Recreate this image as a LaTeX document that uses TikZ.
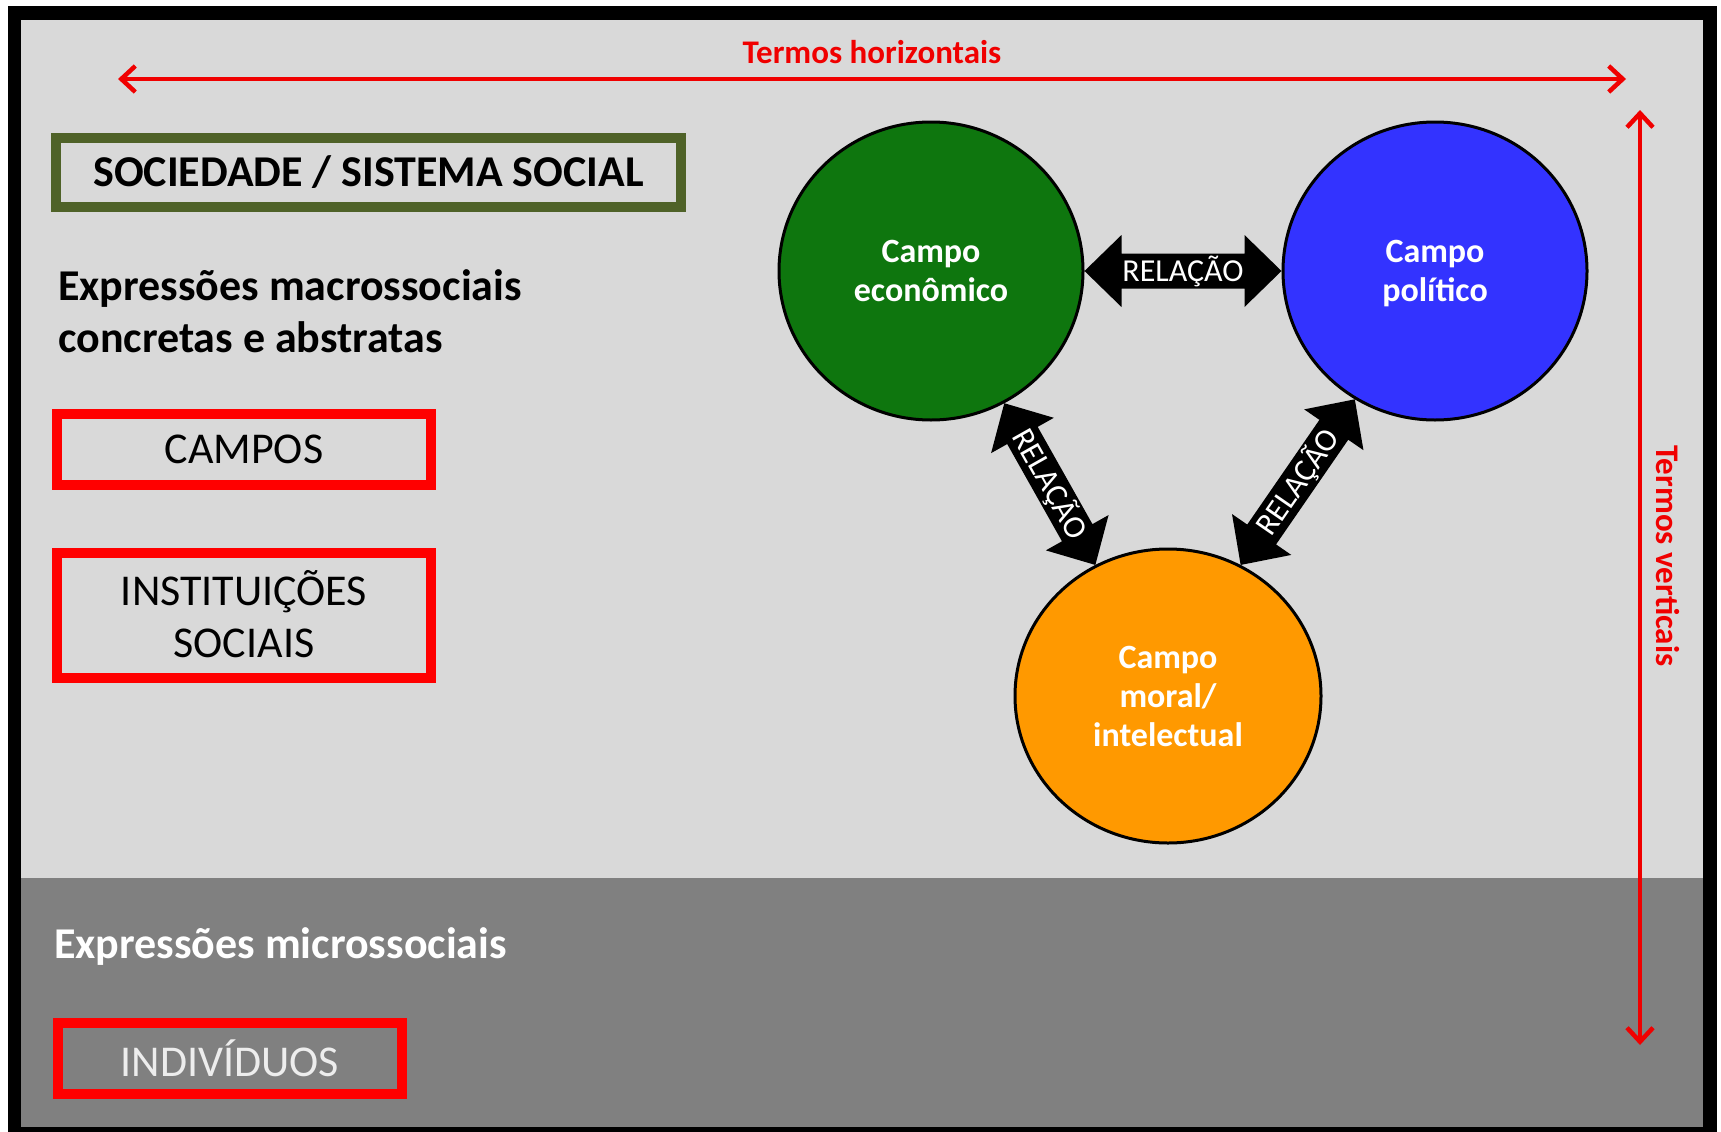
\documentclass[tikz,border=0pt]{standalone}
\usepackage{fontspec}
\setmainfont{Carlito}
\usetikzlibrary{calc,arrows.meta,shapes.geometric}
\definecolor{lightbg}{HTML}{D9D9D9}
\definecolor{darkbg}{HTML}{808080}
\definecolor{olivebox}{HTML}{4F6228}
\definecolor{boxred}{HTML}{FF0000}
\definecolor{termred}{HTML}{F00000}
\definecolor{cgreen}{HTML}{0E760E}
\definecolor{cblue}{HTML}{3333FF}
\definecolor{corange}{HTML}{FF9900}
\newcommand\RelArrow[2]{%
  \fill[black] (#1)
   -- ($(#1)!37pt!(#2)!36pt!90:(#2)$)
   -- ($(#1)!37pt!(#2)!17.5pt!90:(#2)$)
   -- ($(#2)!37pt!(#1)!17.5pt!270:(#1)$)
   -- ($(#2)!37pt!(#1)!36pt!270:(#1)$)
   -- (#2)
   -- ($(#2)!37pt!(#1)!36pt!90:(#1)$)
   -- ($(#2)!37pt!(#1)!17.5pt!90:(#1)$)
   -- ($(#1)!37pt!(#2)!17.5pt!270:(#2)$)
   -- ($(#1)!37pt!(#2)!36pt!270:(#2)$)
   -- cycle;}
\begin{document}
\begin{tikzpicture}[x=1pt,y=-1pt,
  framebox/.style={draw=boxred, line width=10pt, rectangle, inner sep=0pt,
    font=\fontsize{44}{52}\selectfont, align=center},
  circ/.style={ellipse, draw=black, line width=3pt, inner sep=0pt,
    minimum width=304pt, minimum height=298pt, text=white,
    font=\bfseries\fontsize{34}{39}\selectfont, align=center},
  reltext/.style={text=white, font=\fontsize{32}{34}\selectfont, inner sep=0pt},
  termarrow/.style={draw=termred, line width=4.5pt,
    {Straight Barb[length=14pt,width=26pt]}-{Straight Barb[length=14pt,width=26pt]}},
  termtext/.style={text=termred, font=\bfseries\fontsize{33}{36}\selectfont, inner sep=0pt},
  heading/.style={anchor=west, align=left, inner sep=0pt,
    font=\bfseries\fontsize{44}{52}\selectfont}]
\useasboundingbox (0,0) rectangle (1721,1132);
% frame and backgrounds
\fill[white] (0,0) rectangle (1721,1132);
\fill[black] (8,6) rectangle (1717,1132);
\fill[lightbg] (21,20) rectangle (1703,1127);
\fill[darkbg] (21,878) rectangle (1703,1127);
% horizontal and vertical terms
\coordinate (hl) at (118,79);
\coordinate (hr) at (1626,79);
\coordinate (vt) at (1640,110);
\coordinate (vb) at (1640,1045);
\draw[termarrow] (hl) -- (hr);
\draw[termarrow] (vt) -- (vb);
\node[termtext] (th) at (872,52) {Termos horizontais};
\node[termtext, rotate=-90] (tv) at (1668,556) {Termos verticais};
% left column
\node[framebox, draw=olivebox, minimum width=625pt, minimum height=69pt,
  font=\bfseries\fontsize{44}{52}\selectfont] (soc) at (368.5,172.5) {SOCIEDADE / SISTEMA SOCIAL};
\node[heading] (macro) at (58,311) {Expressões macrossociais\\concretas e abstratas};
\node[framebox, minimum width=374pt, minimum height=71pt] (campos) at (244,449.5) {CAMPOS};
\node[framebox, minimum width=374pt, minimum height=125pt] (inst) at (244,615.5) {\raisebox{3pt}{INSTITUIÇÕES}\\\raisebox{3pt}{SOCIAIS}};
\node[heading, text=white] (micro) at (54,947) {Expressões microssociais};
\node[framebox, minimum width=344pt, minimum height=71pt, text=white!93!black] (indiv) at (230,1058.5) {INDIVÍDUOS};
% circles
\node[circ, fill=cgreen] (econ) at (931,271) {Campo\\econômico};
\node[circ, fill=cblue] (poli) at (1435,271) {Campo\\\raisebox{0pt}[\height][0pt]{político}};
\node[circ, fill=corange, minimum width=306pt, minimum height=294pt] (moral) at (1168,696) {Campo\\moral/\\intelectual};
% relation arrows
\coordinate (r1a) at (econ.east);
\coordinate (r1b) at (poli.west);
\coordinate (r2a) at (econ.-61);
\coordinate (r2b) at (moral.119);
\coordinate (r3a) at (moral.61);
\coordinate (r3b) at (poli.-122);
\RelArrow{r1a}{r1b}
\RelArrow{r2a}{r2b}
\RelArrow{r3a}{r3b}
\path (r1a) -- (r1b) node[midway, sloped, reltext] (l1) {RELAÇÃO};
\path (r2a) -- (r2b) node[midway, sloped, reltext] (l2) {RELAÇÃO};
\path (r3a) -- (r3b) node[midway, sloped, reltext] (l3) {RELAÇÃO};
\end{tikzpicture}
\end{document}
